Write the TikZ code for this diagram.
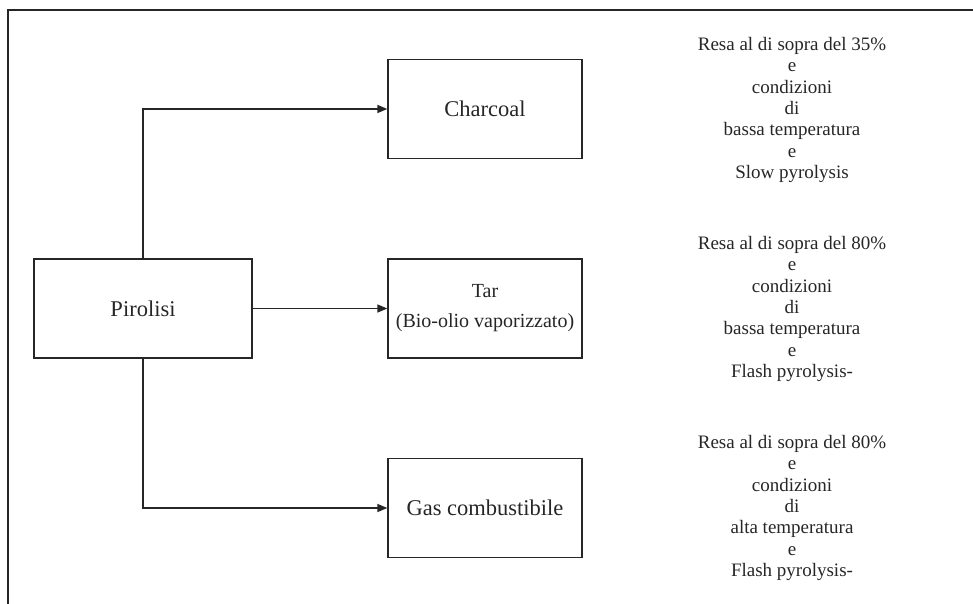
\documentclass[tikz,border=0pt]{standalone}
\usepackage{fontspec}
\setmainfont{Liberation Serif}
\usetikzlibrary{arrows.meta}
\begin{document}
\begin{tikzpicture}[x=1pt,y=-1pt,
  line width=1.4pt, draw={black!85},
  procbox/.style={draw, line width=1.3pt, minimum width=194pt, minimum height=99pt,
    inner sep=0pt, align=center, font=\fontsize{22.5}{24.5}\selectfont, text=black!85},
  note/.style={align=center, font=\fontsize{19}{21.3}\selectfont, text=black!85},
  flow/.style={-{Triangle[length=10pt,width=8pt]}, line width=1.4pt}]
  \useasboundingbox (0,0) rectangle (973,604);
  % open frame: top and left edges
  \draw[line width=1.6pt] (8,604) -- (8,10) -- (973,10);

  \node[procbox, minimum width=218pt] (pir) at (143,308.5) {Pirolisi};
  \node[procbox] (char) at (485,109) {Charcoal};
  \node[procbox, font=\fontsize{20}{30}\selectfont] (tar) at (485,308.5) {Tar\\(Bio-olio vaporizzato)};
  \node[procbox] (gas) at (485,508) {Gas combustibile};

  \draw[flow] (pir.north) |- (char.west);
  \draw[flow] (pir.east) -- (tar.west);
  \draw[flow] (pir.south) |- (gas.west);

  \node[note] (n1) at (792,110) {Resa al di sopra del 35\%\\e\\condizioni\\di\\bassa temperatura\\e\\Slow pyrolysis};
  \node[note] (n2) at (792,309) {Resa al di sopra del 80\%\\e\\condizioni\\di\\bassa temperatura\\e\\Flash pyrolysis-};
  \node[note] (n3) at (792,508) {Resa al di sopra del 80\%\\e\\condizioni\\di\\alta temperatura\\e\\Flash pyrolysis-};
\end{tikzpicture}
\end{document}
